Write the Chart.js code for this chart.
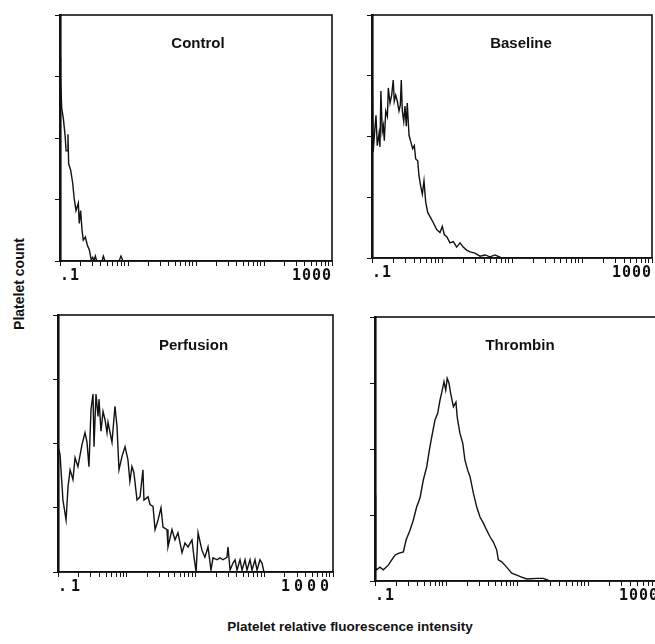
<!DOCTYPE html>
<html>
<head>
<meta charset="utf-8">
<script src="https://cdn.jsdelivr.net/npm/chart.js@4.4.1/dist/chart.umd.min.js"></script>
<style>
  html, body { margin: 0; padding: 0; background: #fff; overflow: hidden; }
  #page { position: relative; width: 655px; height: 644px; }
  .panel { position: absolute; }
  #ytitle {
    position: absolute; left: 19px; top: 284px; white-space: nowrap;
    font: bold 14px "Liberation Sans", Arial, sans-serif; color: #111;
    transform: translate(-50%, -50%) rotate(-90deg);
  }
  #xtitle {
    position: absolute; left: 350px; top: 626px; white-space: nowrap;
    font: bold 13.5px "Liberation Sans", Arial, sans-serif; color: #111;
    transform: translate(-50%, -50%);
  }
</style>
</head>
<body>
<div id="page">
  <div class="panel" style="left:48px;top:11px"><canvas id="control" width="288" height="278"></canvas></div>
  <div class="panel" style="left:360px;top:11px"><canvas id="baseline" width="296" height="275"></canvas></div>
  <div class="panel" style="left:46px;top:311px"><canvas id="perfusion" width="291" height="289"></canvas></div>
  <div class="panel" style="left:363px;top:313px"><canvas id="thrombin" width="300" height="296"></canvas></div>
  <div id="ytitle">Platelet count</div>
  <div id="xtitle">Platelet relative fluorescence intensity</div>
</div>
<script>
// fluorescence intensity (log axis) and platelet count (arbitrary units, axis ticks 0..4)
const controlX = [0.1, 0.102, 0.106, 0.112, 0.119, 0.123, 0.128, 0.131, 0.134, 0.144, 0.154, 0.161, 0.172, 0.186, 0.192, 0.201, 0.211, 0.220, 0.236, 0.252, 0.270, 0.288, 0.303, 0.316, 0.331, 0.347, 0.415, 0.434, 0.459, 0.738, 0.789, 0.843, 2.1];
const controlY = [3.3, 2.97, 2.48, 2.32, 2.03, 1.79, 1.79, 2.06, 1.58, 1.47, 1.26, 1.03, 0.82, 0.94, 0.61, 0.82, 0.5, 0.34, 0.39, 0.26, 0.18, 0.02, 0.06, 0, 0.08, 0, 0, 0.08, 0, 0, 0.08, 0, 0];

const baselineX = [0.1, 0.101, 0.104, 0.110, 0.114, 0.119, 0.126, 0.130, 0.134, 0.140, 0.145, 0.150, 0.157, 0.166, 0.171, 0.181, 0.191, 0.201, 0.208, 0.218, 0.230, 0.243, 0.254, 0.262, 0.271, 0.284, 0.296, 0.309, 0.319, 0.338, 0.357, 0.381, 0.402, 0.421, 0.450, 0.469, 0.497, 0.524, 0.553, 0.585, 0.625, 0.674, 0.752, 0.840, 0.936, 1.01, 1.08, 1.17, 1.30, 1.45, 1.62, 1.81, 2.01, 2.25, 2.51, 2.96, 3.49, 4.11, 4.85, 5.71, 7.13, 20];
const baselineY = [1.6, 2.92, 1.75, 2.13, 2.35, 1.85, 2.05, 1.83, 2.75, 2.08, 2.18, 1.93, 2.42, 2.33, 2.8, 2.55, 2.68, 2.93, 2.58, 2.68, 2.58, 2.42, 2.52, 2.93, 2.42, 2.25, 2.5, 2.17, 2.55, 2.02, 1.92, 1.8, 1.85, 1.63, 1.6, 1.35, 1.18, 1.05, 1.27, 0.92, 0.75, 0.68, 0.58, 0.47, 0.42, 0.52, 0.38, 0.35, 0.25, 0.27, 0.18, 0.25, 0.18, 0.13, 0.1, 0.08, 0.03, 0.05, 0.02, 0.05, 0, 0];

const perfusionX = [0.1, 0.107, 0.118, 0.131, 0.140, 0.150, 0.165, 0.177, 0.195, 0.223, 0.247, 0.264, 0.282, 0.302, 0.323, 0.334, 0.357, 0.382, 0.395, 0.422, 0.452, 0.483, 0.516, 0.534, 0.610, 0.674, 0.721, 0.771, 0.853, 0.944, 1.04, 1.11, 1.19, 1.27, 1.41, 1.56, 1.72, 1.78, 2.04, 2.18, 2.41, 2.58, 2.85, 3.15, 3.37, 3.85, 3.98, 4.55, 5.03, 5.56, 6.37, 7.03, 7.78, 8.89, 9.51, 10.2, 10.9, 12.4, 13.7, 15.2, 16.8, 18.0, 20.6, 22.7, 25.1, 28.7, 29.7, 31.8, 35.1, 37.6, 40.2, 44.4, 47.5, 52.5, 56.1, 62.1, 66.4, 73.3, 78.5, 86.7, 92.7, 99.1, 300];
const perfusionY = [1.95, 1.83, 1.12, 0.81, 1.33, 1.59, 1.44, 1.78, 1.64, 1.98, 2.17, 2.02, 1.64, 2.53, 2.77, 1.95, 2.77, 2.42, 2.69, 2.19, 2.5, 2.37, 2.17, 2.33, 2.02, 2.58, 2.27, 1.59, 1.8, 1.95, 1.75, 1.41, 1.64, 1.55, 1.12, 1.17, 1.59, 1.12, 1.17, 1.05, 1.02, 0.66, 0.81, 1.0, 0.7, 0.66, 0.39, 0.66, 0.5, 0.61, 0.3, 0.45, 0.39, 0.5, 0.23, 0, 0.61, 0.34, 0.23, 0.39, 0.03, 0.22, 0.19, 0.22, 0.19, 0.23, 0.39, 0.03, 0.14, 0.19, 0.03, 0.19, 0.03, 0.19, 0.03, 0.19, 0.03, 0.19, 0.03, 0.19, 0.14, 0, 0];

const thrombinX = [0.1, 0.102, 0.106, 0.117, 0.131, 0.154, 0.172, 0.191, 0.213, 0.251, 0.274, 0.311, 0.346, 0.386, 0.431, 0.479, 0.535, 0.582, 0.629, 0.700, 0.764, 0.823, 0.869, 0.937, 0.991, 1.04, 1.10, 1.16, 1.27, 1.38, 1.44, 1.57, 1.72, 1.85, 2.02, 2.18, 2.43, 2.71, 3.01, 3.35, 3.74, 4.17, 4.64, 5.18, 5.46, 6.09, 7.16, 8.42, 9.91, 11.6, 13.7, 18.9, 23.4, 29.2, 40.4];
const thrombinY = [1.3, 0.2, 0.17, 0.21, 0.17, 0.24, 0.32, 0.39, 0.42, 0.44, 0.62, 0.77, 0.92, 1.12, 1.26, 1.53, 1.73, 1.98, 2.18, 2.44, 2.54, 2.74, 2.85, 3.02, 2.89, 3.07, 3.0, 2.85, 2.64, 2.71, 2.48, 2.24, 2.09, 1.83, 1.68, 1.58, 1.33, 1.12, 0.97, 0.88, 0.77, 0.67, 0.59, 0.47, 0.32, 0.29, 0.21, 0.12, 0.09, 0.06, 0.03, 0.04, 0.04, 0, 0];

// axis ticks
const decades = [0.1, 1, 10, 100];
const multiples = [1, 2, 3, 4, 5, 6, 7, 8, 9];
const xTickLabels = { 0.1: '.1', 1000: '1000' };
const yTicks = [0, 1, 2, 3, 4];

const xTicks = [];
decades.forEach(d => multiples.forEach(m => xTicks.push(+(d * m).toPrecision(3))));
xTicks.push(1000);

const ink = '#111';

const panelFrame = {
  id: 'panelFrame',
  beforeDraw(chart, args, opts) {
    chart.ctx.letterSpacing = opts.spacing || '0px';
  },
  afterDraw(chart, args, opts) {
    const ctx = chart.ctx;
    const a = chart.chartArea;
    ctx.save();
    ctx.letterSpacing = '0px';
    ctx.strokeStyle = ink;
    ctx.lineWidth = 1.6;
    ctx.strokeRect(a.left, a.top, a.right - a.left, a.bottom - a.top);
    ctx.fillStyle = ink;
    ctx.font = 'bold 15px "Liberation Sans", Arial, sans-serif';
    ctx.textAlign = 'center';
    ctx.textBaseline = 'middle';
    ctx.fillText(opts.text, (a.left + a.right) / 2 + opts.dx, a.top + opts.dy);
    ctx.restore();
  }
};

function makePanel(id, title, xs, ys, opts) {
  new Chart(document.getElementById(id), {
    type: 'line',
    data: {
      datasets: [{
        data: xs.map((x, i) => ({ x: x, y: ys[i] })),
        borderColor: ink,
        borderWidth: 1.4,
        pointRadius: 0,
        fill: false,
        tension: 0
      }]
    },
    options: {
      responsive: false,
      animation: false,
      events: [],
      layout: { padding: { top: 4, right: 4, left: 0, bottom: 0 } },
      plugins: {
        legend: { display: false },
        tooltip: { enabled: false },
        panelFrame: { text: title, dx: opts.dx, dy: opts.dy, spacing: opts.spacing }
      },
      scales: {
        x: {
          type: 'logarithmic',
          min: 0.1,
          max: 1000,
          afterBuildTicks: s => { s.ticks = xTicks.map(v => ({ value: v })); },
          afterFit: s => { s.height = 28; },
          border: { display: true, color: ink, width: 1.6 },
          grid: { drawOnChartArea: false, drawTicks: true, tickLength: 5, color: ink, lineWidth: 1 },
          ticks: {
            autoSkip: false,
            maxRotation: 0,
            align: 'inner',
            padding: 1,
            color: ink,
            font: { family: '"DejaVu Sans Mono", monospace', weight: 'bold', size: opts.labelSize },
            callback: v => xTickLabels[v] || ''
          }
        },
        y: {
          min: 0,
          max: 4,
          afterBuildTicks: s => { s.ticks = yTicks.map(v => ({ value: v })); },
          afterFit: s => { s.width = 12; },
          border: { display: true, color: ink, width: 2.6 },
          grid: { drawOnChartArea: false, drawTicks: true, tickLength: 5, color: ink, lineWidth: 1 },
          ticks: { display: false }
        }
      }
    },
    plugins: [panelFrame]
  });
}

makePanel('control', 'Control', controlX, controlY, { dx: 2, dy: 29, labelSize: 15, spacing: '1px' });
makePanel('baseline', 'Baseline', baselineX, baselineY, { dx: 9, dy: 29, labelSize: 15, spacing: '1px' });
makePanel('perfusion', 'Perfusion', perfusionX, perfusionY, { dx: -2, dy: 31, labelSize: 15, spacing: '4px' });
makePanel('thrombin', 'Thrombin', thrombinX, thrombinY, { dx: 3, dy: 29, labelSize: 15, spacing: '1px' });
</script>
</body>
</html>
